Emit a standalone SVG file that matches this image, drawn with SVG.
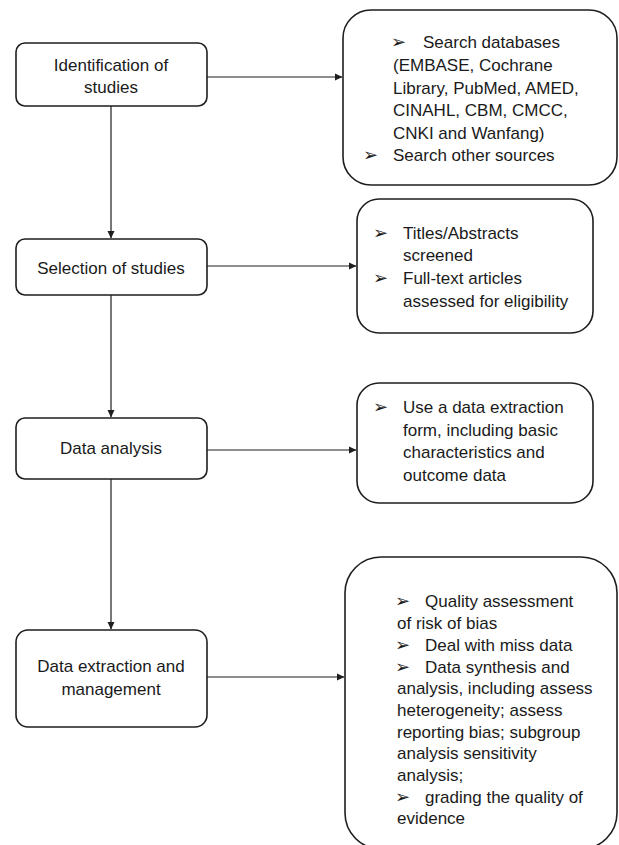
<svg xmlns="http://www.w3.org/2000/svg" width="619" height="845" viewBox="0 0 619 845">
<style>
.box{fill:#fff;stroke:#1e1e1e;stroke-width:1.6}
.t{font-family:"Liberation Sans",Arial,sans-serif;font-size:17px;fill:#1a1a1a}
.c{text-anchor:middle}
.b{font-family:"DejaVu Sans",sans-serif;font-size:18px;fill:#1a1a1a}
.ln{stroke:#1e1e1e;stroke-width:1.2;fill:none}
</style>
<defs>
<marker id="ah" markerWidth="8" markerHeight="8" refX="7" refY="4" orient="auto" markerUnits="userSpaceOnUse">
<path d="M0,0.5 L7.5,4 L0,7.5 Z" fill="#1e1e1e"/>
</marker>
</defs>
<rect width="619" height="845" fill="#fff"/>
<g id="connectors">
<line class="ln" x1="111" y1="106" x2="111" y2="238" marker-end="url(#ah)"/>
<line class="ln" x1="111" y1="295" x2="111" y2="417" marker-end="url(#ah)"/>
<line class="ln" x1="111" y1="479" x2="111" y2="629" marker-end="url(#ah)"/>
<line class="ln" x1="207" y1="77" x2="342" y2="77" marker-end="url(#ah)"/>
<line class="ln" x1="207" y1="266" x2="356" y2="266" marker-end="url(#ah)"/>
<line class="ln" x1="207" y1="450" x2="356" y2="450" marker-end="url(#ah)"/>
<line class="ln" x1="207" y1="677" x2="344" y2="677" marker-end="url(#ah)"/>
</g>
<g id="n1">
<rect class="box" x="16" y="43" width="191" height="63" rx="9"/>
<text class="t c" x="111" y="71">Identification of</text>
<text class="t c" x="111" y="93">studies</text>
</g>
<g id="n2">
<rect class="box" x="16" y="239" width="191" height="56" rx="9"/>
<text class="t c" x="111" y="274">Selection of studies</text>
</g>
<g id="n3">
<rect class="box" x="16" y="418" width="191" height="61" rx="9"/>
<text class="t c" x="111" y="454">Data analysis</text>
</g>
<g id="n4">
<rect class="box" x="16" y="630" width="191" height="97" rx="12"/>
<text class="t c" x="111" y="672">Data extraction and</text>
<text class="t c" x="111" y="695">management</text>
</g>
<g id="r1">
<rect class="box" x="343" y="10" width="274" height="175" rx="28"/>
<text class="b" x="391" y="48">➢</text>
<text class="t" x="423" y="48">Search databases</text>
<text class="t" x="393" y="71">(EMBASE, Cochrane</text>
<text class="t" x="393" y="94">Library, PubMed, AMED,</text>
<text class="t" x="393" y="116">CINAHL, CBM, CMCC,</text>
<text class="t" x="393" y="139">CNKI and Wanfang)</text>
<text class="b" x="363" y="161">➢</text>
<text class="t" x="393" y="161">Search other sources</text>
</g>
<g id="r2">
<rect class="box" x="357" y="199" width="236" height="134" rx="22"/>
<text class="b" x="373" y="239">➢</text>
<text class="t" x="403" y="239">Titles/Abstracts</text>
<text class="t" x="403" y="261">screened</text>
<text class="b" x="373" y="284">➢</text>
<text class="t" x="403" y="284">Full-text articles</text>
<text class="t" x="403" y="307">assessed for eligibility</text>
</g>
<g id="r3">
<rect class="box" x="357" y="383" width="236" height="120" rx="22"/>
<text class="b" x="373" y="413">➢</text>
<text class="t" x="403" y="413">Use a data extraction</text>
<text class="t" x="403" y="436">form, including basic</text>
<text class="t" x="403" y="458">characteristics and</text>
<text class="t" x="403" y="481">outcome data</text>
</g>
<g id="r4">
<rect class="box" x="345" y="557" width="272" height="292" rx="36"/>
<text class="b" x="395" y="607">➢</text>
<text class="t" x="425" y="607">Quality assessment</text>
<text class="t" x="397" y="629">of risk of bias</text>
<text class="b" x="395" y="651">➢</text>
<text class="t" x="425" y="651">Deal with miss data</text>
<text class="b" x="395" y="673">➢</text>
<text class="t" x="425" y="673">Data synthesis and</text>
<text class="t" x="397" y="694">analysis, including assess</text>
<text class="t" x="397" y="716">heterogeneity; assess</text>
<text class="t" x="397" y="738">reporting bias; subgroup</text>
<text class="t" x="397" y="759">analysis sensitivity</text>
<text class="t" x="397" y="781">analysis;</text>
<text class="b" x="395" y="803">➢</text>
<text class="t" x="425" y="803">grading the quality of</text>
<text class="t" x="397" y="824">evidence</text>
</g>
</svg>
